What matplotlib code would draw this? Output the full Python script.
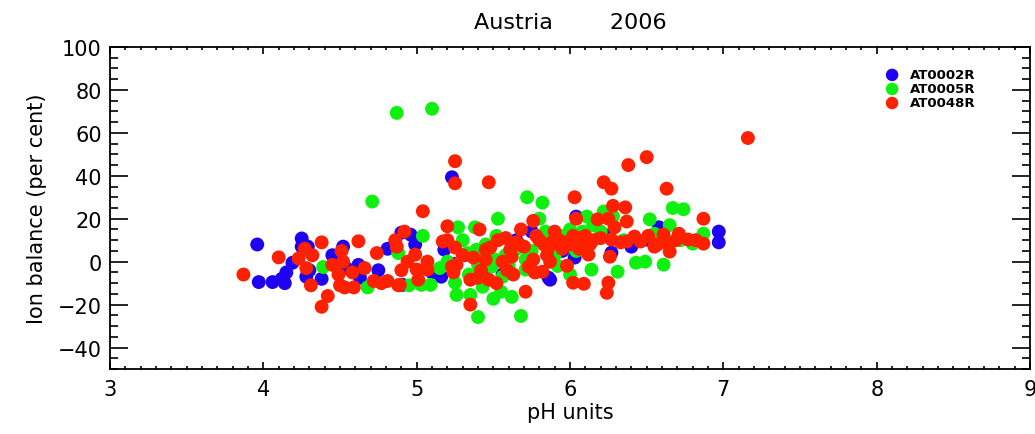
import numpy as np
import matplotlib
matplotlib.use("Agg")
import matplotlib.pyplot as plt
from matplotlib.ticker import MultipleLocator

# pH / ion balance (per cent), one pair list per station
at0002r = [
    (3.96, 8), (3.97, -9.5), (4.06, -9.5), (4.14, -10), (4.15, -5), (4.19, -0.5),
    (4.25, 10.8), (4.25, 7), (4.29, 7), (4.28, -7), (4.30, -4), (4.52, 7),
    (4.54, -3), (4.62, -1.5), (4.63, -7.5), (4.81, 6), (4.90, 13.5), (4.91, -10.8),
    (4.96, 12.6), (4.99, 8), (5.16, -7), (5.18, 5.6), (5.23, 39.3), (5.24, -1),
    (5.31, 3), (5.45, -3), (5.56, -6), (5.75, 14), (5.86, -7.5), (5.87, -8.4),
    (6.03, 1.9), (6.04, 21), (6.22, 12.6), (6.27, 4.2), (6.50, 10.3), (6.58, 16),
    (6.97, 14), (6.97, 9), (4.45, 3), (4.12, -8), (5.65, 10), (5.95, 5),
    (6.40, 7), (5.10, -5), (4.75, -4), (4.38, -8),
]
at0005r = [
    (4.39, -2.5), (4.68, -12), (4.88, 4), (4.71, 28), (4.87, 69.3), (5.10, 71.2),
    (5.72, 30), (5.82, 27.5), (5.27, 16), (5.38, 16), (5.53, 20), (5.04, 12),
    (5.30, 10), (5.39, 5.6), (5.51, 1), (5.71, 1), (5.03, -10.8), (5.09, -10.8),
    (5.25, -9.8), (5.26, -15.5), (5.35, -15.5), (5.40, -25.8), (5.43, -11.7),
    (5.50, -17.3), (5.55, -14), (5.62, -16.4), (5.68, -25.3), (5.56, -7),
    (5.40, -1.4), (5.49, -2.3), (5.60, -2.3), (5.71, -3.7), (5.78, -5), (5.92, -2),
    (5.96, 12), (6.00, 15), (6.04, 5), (6.11, 21), (6.22, 23.4), (6.52, 19.7),
    (6.67, 25), (6.74, 24.4), (6.65, 17), (6.87, 13), (6.80, 8.4), (6.14, -3.7),
    (6.31, -4.7), (6.43, -0.5), (6.49, 0), (6.61, -1.4), (6.15, 17), (6.10, 8),
    (5.84, 14), (5.45, 8), (5.20, 0), (5.15, -3), (5.34, -6), (5.65, 6),
    (5.90, 3), (6.20, 14), (6.35, 10), (6.55, 13), (6.72, 10), (6.00, -6),
    (5.80, 20), (4.95, -11), (5.88, 2), (5.52, 12), (6.28, 21), (6.60, 9),
    (5.33, 4), (5.58, 3), (5.75, 5), (6.08, 14),
]
at0048r = [
    (3.87, -6), (4.10, 2), (4.23, 1.5), (4.27, 6), (4.32, 3), (4.38, 9),
    (4.28, -3), (4.31, -11), (4.42, -16), (4.38, -21), (4.45, -1.5), (4.51, 5),
    (4.52, 0), (4.49, -6), (4.50, -11), (4.53, -12), (4.58, -5), (4.59, -12),
    (4.62, 9.5), (4.66, -3), (4.72, -9), (4.74, 4), (4.77, -10), (4.81, -9),
    (4.86, 10), (4.87, 7), (4.88, -11), (4.90, -4), (5.04, 23.5), (4.92, 14),
    (5.20, 16.5), (5.41, 15), (5.68, 15), (5.76, 19), (5.17, 9.4), (5.25, 6.6),
    (5.37, 1.9), (5.45, 5.6), (5.48, 6.6), (5.45, 1), (5.58, 11), (5.61, 5.6),
    (5.62, 2.3), (5.67, 8), (5.76, 1), (5.80, 10), (5.86, 6.6), (5.87, 0),
    (4.99, 3.3), (4.94, 0), (5.07, 0), (5.07, -3.7), (5.00, -3.7), (4.89, -10.8),
    (5.01, -8.4), (5.24, -3.7), (5.26, -1.4), (5.35, -20), (5.35, -8.4),
    (5.40, -7.5), (5.47, -8.4), (5.63, -6), (5.71, -14), (5.77, -5), (5.82, -4.7),
    (5.56, 0), (6.03, 30), (5.25, 46.8), (5.25, 36.5), (5.47, 37), (6.50, 48.7),
    (6.38, 45), (7.16, 57.6), (6.22, 37), (6.27, 34), (6.63, 34), (6.28, 26),
    (6.36, 25.3), (6.87, 20), (6.37, 18.7), (6.25, 20), (6.18, 19.7), (6.04, 20),
    (6.29, 16), (6.71, 13), (6.77, 10.3), (6.87, 8.4), (6.61, 12.6), (6.65, 4.7),
    (6.42, 11.7), (6.46, 9.4), (6.57, 8), (6.64, 9), (6.37, 9.4), (6.33, 9),
    (6.27, 10.3), (6.26, 2.3), (6.12, 3.3), (5.98, -1.9), (6.02, -9.8),
    (6.09, -10.3), (6.25, -9.8), (6.24, -14.5), (5.90, 14), (5.93, 10), (5.98, 9),
    (6.05, 11), (6.10, 12), (6.15, 10), (6.20, 11), (5.95, 6), (6.00, 8),
    (5.70, 7), (5.73, -2.3), (5.85, 3), (6.06, 6), (5.53, 10), (5.59, -4),
    (5.20, 10), (5.30, 3), (5.42, -4), (5.52, -10), (6.51, 12), (6.55, 7),
    (6.69, 10), (6.82, 10), (5.78, 12), (5.65, 9), (5.23, -2.3), (5.24, -5),
    (5.88, 9), (6.13, 8), (6.02, 12), (5.83, 8),
]

stations = ["AT0002R", "AT0005R", "AT0048R"]
colors = ["#2000f0", "#10f010", "#ff2000"]

fig = plt.figure(figsize=(10.35, 4.35), dpi=100)
ax = fig.add_axes([0.1063, 0.1494, 0.8889, 0.7403])

for name, pts, c in zip(stations, [at0002r, at0005r, at0048r], colors):
    arr = np.array(pts)
    ax.scatter(arr[:, 0], arr[:, 1], s=100, color=c, edgecolors="none", label=name)

ax.set_xlim(3, 9)
ax.set_ylim(-50, 100)
ax.xaxis.set_major_locator(MultipleLocator(1))
ax.xaxis.set_minor_locator(MultipleLocator(0.1))
ax.yaxis.set_major_locator(MultipleLocator(20))
ax.yaxis.set_minor_locator(MultipleLocator(5))
ax.set_yticks([-40, -20, 0, 20, 40, 60, 80, 100])

ax.tick_params(axis="both", which="both", direction="in", top=True, right=True,
               labelsize=15, width=1.2)
ax.tick_params(axis="x", which="major", length=5, pad=7)
ax.tick_params(axis="x", which="minor", length=2.5)
ax.tick_params(axis="y", which="major", length=13, pad=6)
ax.tick_params(axis="y", which="minor", length=6)
for sp in ax.spines.values():
    sp.set_linewidth(1.3)

ax.set_title("Austria        2006", fontsize=16, pad=14)
ax.set_xlabel("pH units", fontsize=15, labelpad=2)
ax.set_ylabel("Ion balance (per cent)", fontsize=15, labelpad=8)

leg = ax.legend(loc="upper left", bbox_to_anchor=(0.83, 0.95), frameon=False,
                fontsize=9.5, handletextpad=0.35, labelspacing=0.08,
                borderaxespad=0, markerscale=0.9, scatterpoints=1)
for t in leg.get_texts():
    t.set_fontweight("bold")

fig.savefig("out.png", dpi=100)
